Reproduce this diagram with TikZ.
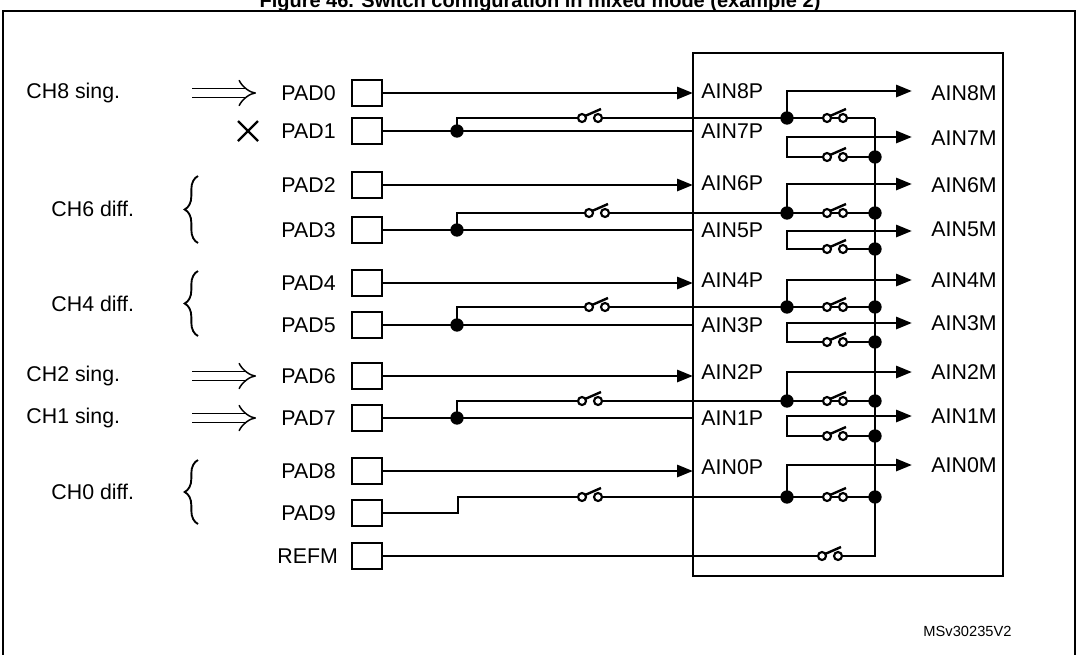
\documentclass[tikz,border=0pt]{standalone}
\usepackage{fontspec}
\setmainfont{Liberation Sans}
\usetikzlibrary{arrows.meta,decorations.pathreplacing}
\begin{document}
\begin{tikzpicture}[x=0.75pt,y=-0.75pt,line width=2.2pt,
  pad/.style={draw,line width=1.3pt,minimum width=22pt,minimum height=19.5pt,inner sep=0},
  lbl/.style={font=\fontsize{16}{18}\selectfont,anchor=west,inner sep=0},
  arr/.style={-{Triangle[length=12pt,width=9pt]}},
  dot/.style={circle,fill,inner sep=0,minimum size=10pt},
  dbl/.style={line width=1.1pt,double distance=6pt,-{Implies[length=7pt]}},
  brc/.style={line width=1.4pt,decorate,decoration={brace,amplitude=10pt}}]
\useasboundingbox (0,0) rectangle (1077,654);
\newcommand{\swt}[2]{%
  \draw[line width=1.6pt,fill=white] (#1-8,#2) circle (3pt) (#1+8,#2) circle (3pt);
  \draw[line width=1.8pt] (#1-5,#2-2) -- (#1+11,#2-9);}
\node[anchor=base,font=\bfseries\fontsize{15}{17}\selectfont] (title) at (540,7) {Figure 46. Switch configuration in mixed mode (example 2)};
\draw[line width=1.3pt] (3,11) rectangle (1075,662);
\draw[line width=1.6pt] (693,53) rectangle (1003,576);
% pads
\foreach \n/\y in {0/93,1/131,2/185,3/230,4/283,5/325,6/376,7/418,8/471,9/513}{
  \node[pad] (p\n) at (367,\y) {};
  \node[lbl] (l\n) at (280,\y) {PAD\n};}
\node[pad] (pR) at (367,556) {};
\node[lbl] (lR) at (276,556) {REFM};
% P and M labels
\foreach \n/\y in {8/91,7/131,6/183,5/230,4/280,3/325,2/372,1/418,0/467}{
  \node[lbl] (ap\n) at (700,\y) {AIN\n P};}
\foreach \n/\y in {8/93,7/138,6/185,5/229,4/280,3/323,2/372,1/416,0/465}{
  \node[lbl] (am\n) at (930,\y) {AIN\n M};}
% pairs
\foreach \t/\b/\s/\mu/\md/\lo/\sx/\first in {0/1/118/91/137/157/590/1,2/3/213/184/231/249/597/0,4/5/307/280/323/342/597/0,6/7/401/372/416/436/590/0}{
  \draw[arr] (p\t.east) -- (693,0 |- p\t.east);
  \draw (p\b.east) -- (693,0 |- p\b.east);
  \coordinate (jl\b) at (457,0 |- p\b.east);
  \node[dot] (dl\b) at (jl\b) {};
  \draw (dl\b.center) -- (457,\s) -- (\sx-11,\s);
  \draw (\sx+11,\s) -- (875,\s);
  \swt{\sx}{\s}
  \node[dot] (dm\b) at (787,\s) {};
  \ifnum\first=0 \node[dot] at (875,\s) {};\fi
  \draw[arr] (dm\b.center) -- (787,\mu) -- (912,\mu);
  \draw[arr] (827,\lo) -- (787,\lo) -- (787,\md) -- (912,\md);
  \draw (843,\lo) -- (875,\lo);
  \node[dot] at (875,\lo) {};
  \swt{835}{\lo}
  \swt{835}{\s}
}
% last pair
\draw[arr] (p8.east) -- (693,0 |- p8.east);
\draw (p9.east) -- (458,0 |- p9.east) -- (458,497) -- (579,497);
\draw (601,497) -- (875,497);
\swt{590}{497}
\node[dot] (dm9) at (787,497) {};
\node[dot] at (875,497) {};
\draw[arr] (dm9.center) -- (787,465) -- (912,465);
\swt{835}{497}
% REFM
\draw (pR.east) -- (822,556);
\draw (838,556) -- (875,556) -- (875,118);
\swt{830}{556}
% left labels
\node[lbl] (c8) at (25,93) {CH8 sing.};
\draw[dbl] (192,93) -- (256,93);
\draw[line width=1.8pt] (238,121) -- (258,141) (238,141) -- (258,121);
\node[lbl] (c6) at (50,209) {CH6 diff.};
\draw[brc] (198,243) -- (198,176);
\node[lbl] (c4) at (50,304) {CH4 diff.};
\draw[brc] (198,336) -- (198,271);
\node[lbl] (c2) at (25,376) {CH2 sing.};
\draw[dbl] (192,376) -- (256,376);
\node[lbl] (c1) at (25,418) {CH1 sing.};
\draw[dbl] (192,418) -- (256,418);
\node[lbl] (c0) at (50,492) {CH0 diff.};
\draw[brc] (198,524) -- (198,460);
\node[lbl,font=\fontsize{11}{13}\selectfont] (ms) at (922,631) {MSv30235V2};
\end{tikzpicture}
\end{document}
